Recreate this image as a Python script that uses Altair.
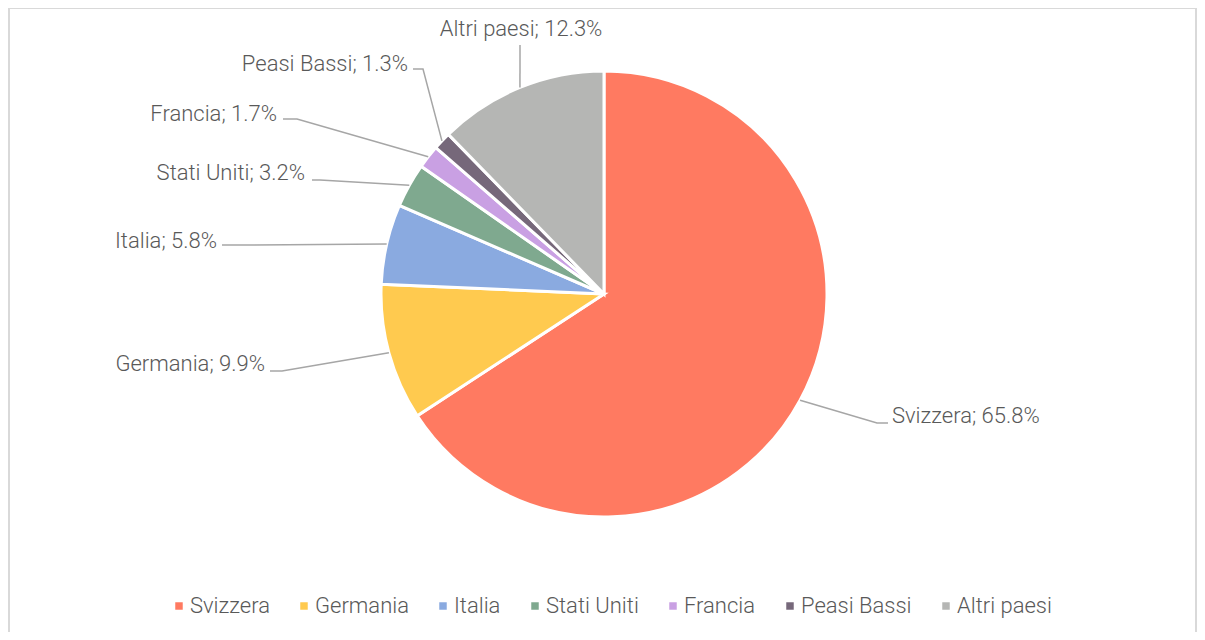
import math
import altair as alt
import pandas as pd

# ---- data ----
countries = ["Svizzera", "Germania", "Italia", "Stati Uniti", "Francia", "Peasi Bassi", "Altri paesi"]
shares = [65.8, 9.9, 5.8, 3.2, 1.7, 1.3, 12.3]
colors = ["#FF7A61", "#FFCA4F", "#8AAAE0", "#7FA98F", "#C9A0E3", "#76687A", "#B5B6B4"]

# ---- layout (chart pixel coordinates) ----
W, H = 1189, 624
CX, CY, R = 596, 286, 223
FONT = "Roboto"
FS = 22
FW = 300
TXT = "#595959"

elbow_x = [869, 274, 230, 312, 289, 415, 512]
elbow_y = [415, 363, 237, 172, 111, 61, 37]
end_x = [880, 262, 214, 304, 275, 405, 512]
label_x = [884, 257, 209, 297, 269, 400, 513]
label_y = [408, 356, 233, 165, 106, 56, 21]
label_align = ["left", "right", "right", "right", "right", "right", "center"]

total = sum(shares)
df = pd.DataFrame({"country": countries, "share": shares, "idx": list(range(len(countries)))})
df["label"] = [f"{c}; {s:.1f}%" for c, s in zip(countries, shares)]
df["lx"] = label_x
df["ly"] = label_y
df["align"] = label_align

rows = []
cum = 0.0
for i, (c, s) in enumerate(zip(countries, shares)):
    mid = (cum + s / 2) / total * 2 * math.pi
    cum += s
    ex = CX + R * math.sin(mid)
    ey = CY - R * math.cos(mid)
    rows.append({"country": c, "step": 0, "px": ex, "py": ey})
    rows.append({"country": c, "step": 1, "px": elbow_x[i], "py": elbow_y[i]})
    rows.append({"country": c, "step": 2, "px": end_x[i], "py": elbow_y[i]})
lines_df = pd.DataFrame(rows)

border = alt.Chart(pd.DataFrame({"a": [0]})).mark_rect(
    fill=None, stroke="#D9D9D9", strokeWidth=2
).encode(x=alt.value(1), x2=alt.value(W - 1), y=alt.value(0), y2=alt.value(H + 40))

pie = alt.Chart(df).mark_arc(outerRadius=R, stroke="white", strokeWidth=3).encode(
    theta=alt.Theta("share:Q", stack=True),
    order=alt.Order("idx:Q"),
    color=alt.Color(
        "country:N",
        sort=countries,
        scale=alt.Scale(domain=countries, range=colors),
        legend=alt.Legend(
            title=None,
            orient="none",
            direction="horizontal",
            legendX=160,
            legendY=587,
            symbolType="square",
            symbolSize=56,
            symbolStrokeWidth=0,
            labelFont=FONT,
            labelFontSize=FS,
            labelFontWeight=FW,
            labelColor=TXT,
            columnPadding=23,
            labelOffset=0,
        ),
    ),
    x=alt.value(CX),
    y=alt.value(CY),
)

leaders = alt.Chart(lines_df).mark_line(color="#A6A6A6", strokeWidth=1.5).encode(
    x=alt.X("px:Q", scale=None, axis=None),
    y=alt.Y("py:Q", scale=None, axis=None),
    detail="country:N",
    order="step:Q",
)

def label_layer(align):
    return alt.Chart(df[df["align"] == align]).mark_text(
        font=FONT, fontSize=FS, fontWeight=FW, color=TXT, align=align, baseline="middle"
    ).encode(
        x=alt.X("lx:Q", scale=None, axis=None),
        y=alt.Y("ly:Q", scale=None, axis=None),
        text="label:N",
    )

chart = alt.layer(
    border, pie, leaders, label_layer("left"), label_layer("right"), label_layer("center")
).properties(
    width=W, height=H, autosize=alt.AutoSizeParams(type="none"), padding=0
).configure_view(stroke=None)

chart.save("out.html", embed_options={"renderer": "svg", "actions": False})
